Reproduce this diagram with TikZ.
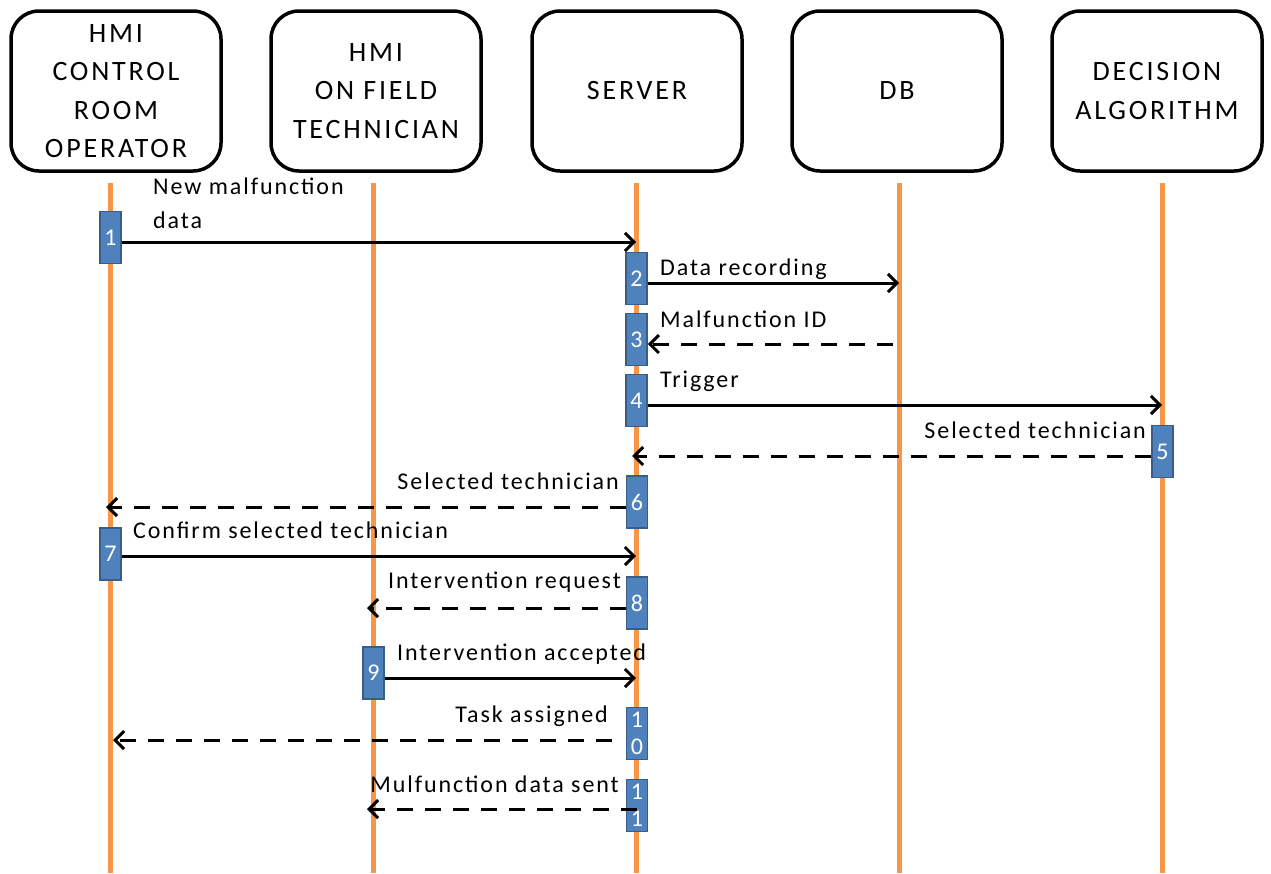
\documentclass[tikz,border=0pt]{standalone}
\usepackage{fontspec}
\setmainfont{Carlito}
\newfontfamily\lblfont[LetterSpace=8]{Carlito}
\newfontfamily\headfont[LetterSpace=10]{Carlito}
\usetikzlibrary{arrows.meta}
\definecolor{lifeor}{HTML}{F79646}
\definecolor{actfill}{HTML}{4F81BD}
\definecolor{actdraw}{HTML}{385D8A}
\begin{document}
\begin{tikzpicture}[x=1pt,y=-1pt,
 head/.style={draw=black, line width=3.5pt, rounded corners=28pt, minimum width=210pt, minimum height=160pt, align=center, font=\headfont\fontsize{28}{38.5}\selectfont, inner sep=0pt},
 lifeline/.style={draw=lifeor, line width=5pt},
 act/.style={draw=actdraw, fill=actfill, line width=1.5pt, minimum width=21pt, minimum height=52pt, inner sep=0pt, text=white, font=\fontsize{24}{27}\selectfont, align=center},
 msg/.style={line width=3pt, -{Straight Barb[length=9pt,width=18pt,line width=3pt]}},
 reply/.style={msg, dash pattern=on 16pt off 12pt},
 lbl/.style={font=\lblfont\fontsize{24}{34}\selectfont, inner sep=0pt}
]
\path[use as bounding box] (0,0) rectangle (1271,873);

% headers
\node[head] (h1) at (116,91) {HMI\\CONTROL\\ROOM\\OPERATOR};
\node[head] (h2) at (376,91) {HMI\\ON FIELD\\TECHNICIAN};
\node[head] (h3) at (637,91) {SERVER};
\node[head] (h4) at (897,91) {DB};
\node[head] (h5) at (1157,91) {DECISION\\ALGORITHM};

% lifelines
\coordinate (l1t) at (110,183); \coordinate (l1b) at (110,873);
\coordinate (l2t) at (373,183); \coordinate (l2b) at (373,873);
\coordinate (l3t) at (636,183); \coordinate (l3b) at (636,873);
\coordinate (l4t) at (899,183); \coordinate (l4b) at (899,873);
\coordinate (l5t) at (1162,183); \coordinate (l5b) at (1162,873);
\foreach \i in {1,...,5} {\draw[lifeline] (l\i t) -- (l\i b);}

% activation boxes
\node[act] (a1) at (110.5,237.5) {1};
\node[act] (a2) at (636.5,278.5) {2};
\node[act] (a3) at (636.5,339.5) {3};
\node[act] (a4) at (636.5,400.5) {4};
\node[act] (a5) at (1162.5,451.5) {5};
\node[act] (a6) at (637,502) {6};
\node[act] (a7) at (110.5,554) {7};
\node[act] (a8) at (637,603) {8};
\node[act] (a9) at (373.5,673) {9};
\node[act] (a10) at (637,733.5) {1\\0};
\node[act] (a11) at (637,805.5) {1\\1};

% message end points
\coordinate (t1) at (636,242);
\coordinate (t2) at (899,283);
\coordinate (s3) at (893,344);
\coordinate (t4) at (1162,405);
\coordinate (t5) at (632,456);
\coordinate (t6) at (106,507);
\coordinate (t7) at (636,556);
\coordinate (t8) at (367,608);
\coordinate (t9) at (636,678);
\coordinate (t10) at (113,740);
\coordinate (t11) at (367,809);

% messages
\draw[msg] (a1.east |- t1) -- (t1);
\draw[msg] (a2.east |- t2) -- (t2);
\draw[reply] (s3) -- (a3.east |- s3);
\draw[msg] (a4.east |- t4) -- (t4);
\draw[reply] (a5.west |- t5) -- (t5);
\draw[reply] (a6.west |- t6) -- (t6);
\draw[msg] (a7.east |- t7) -- (t7);
\draw[reply] (a8.west |- t8) -- (t8);
\draw[msg] (a9.east |- t9) -- (t9);
\draw[reply, shorten <=14pt] (a10.west |- t10) -- (t10);
\draw[reply] (a11.center |- t11) -- (t11);

% labels
\node[lbl, anchor=base west, align=left] (m1) at (153,228) {New malfunction\\data};
\node[lbl, anchor=base west] (m2) at (660,275) {Data recording};
\node[lbl, anchor=base west] (m3) at (660,327) {Malfunction ID};
\node[lbl, anchor=base west] (m4) at (660,387) {Trigger};
\node[lbl, anchor=base east] (m5) at (1146,438) {Selected technician};
\node[lbl, anchor=base east] (m6) at (619,489) {Selected technician};
\node[lbl, anchor=base west] (m7) at (133,538) {Confirm selected technician};
\node[lbl, anchor=base east] (m8) at (621,588) {Intervention request};
\node[lbl, anchor=base west] (m9) at (397,660) {Intervention accepted};
\node[lbl, anchor=base east] (m10) at (608,722) {Task assigned};
\node[lbl, anchor=base east] (m11) at (619,792) {Mulfunction data sent};
\end{tikzpicture}
\end{document}
